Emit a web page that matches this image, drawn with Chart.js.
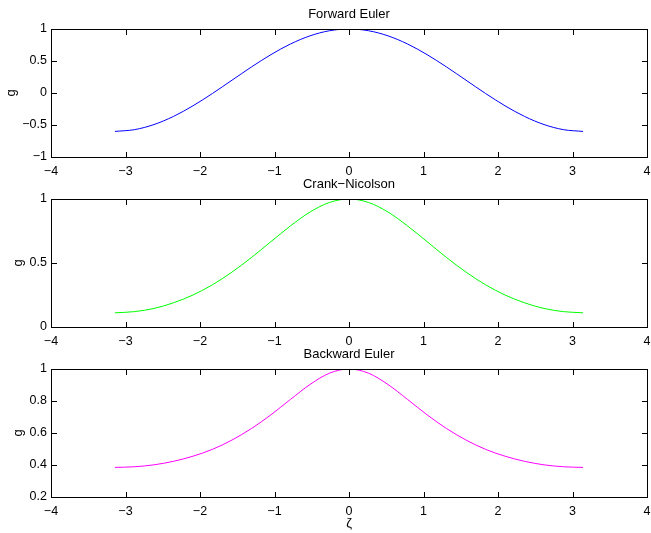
<!DOCTYPE html>
<html>
<head>
<meta charset="utf-8">
<script src="https://cdn.jsdelivr.net/npm/chart.js@4"></script>
<style>
  html, body { margin: 0; padding: 0; background: #fff; }
  #wrap { position: relative; width: 651px; height: 533px; }
  #wrap canvas { position: absolute; left: 0; top: 0; }
</style>
</head>
<body>
<div id="wrap">
  <canvas id="c1" width="651" height="533"></canvas>
  <canvas id="c2" width="651" height="533"></canvas>
  <canvas id="c3" width="651" height="533"></canvas>
</div>
<script>
// ---- data ----
const zeta = [-3.1416, -2.8798, -2.618, -2.3562, -2.0944, -1.8326, -1.5708, -1.309, -1.0472, -0.7854, -0.5236, -0.2618, 0,
              0.2618, 0.5236, 0.7854, 1.0472, 1.309, 1.5708, 1.8326, 2.0944, 2.3562, 2.618, 2.8798, 3.1416];
const forwardEuler = [-0.6, -0.573, -0.493, -0.366, -0.2, -0.007, 0.2, 0.407, 0.6, 0.766, 0.893, 0.973, 1,
                      0.973, 0.893, 0.766, 0.6, 0.407, 0.2, -0.007, -0.2, -0.366, -0.493, -0.573, -0.6];
const crankNicolson = [0.111, 0.120, 0.145, 0.189, 0.25, 0.330, 0.429, 0.543, 0.667, 0.790, 0.898, 0.973, 1,
                       0.973, 0.898, 0.790, 0.667, 0.543, 0.429, 0.330, 0.25, 0.189, 0.145, 0.120, 0.111];
const backwardEuler = [0.385, 0.389, 0.401, 0.423, 0.455, 0.498, 0.556, 0.628, 0.714, 0.810, 0.903, 0.974, 1,
                       0.974, 0.903, 0.810, 0.714, 0.628, 0.556, 0.498, 0.455, 0.423, 0.401, 0.389, 0.385];
const titles = ['Forward Euler', 'Crank\u2212Nicolson', 'Backward Euler'];
const xTicks = [-4, -3, -2, -1, 0, 1, 2, 3, 4];
const yTicks1 = [-1, -0.5, 0, 0.5, 1];
const yTicks2 = [0, 0.5, 1];
const yTicks3 = [0.2, 0.4, 0.6, 0.8, 1];
const yLabel = 'g';
const xLabel = '\u03B6';

const FONT = '"Liberation Sans", Arial, Helvetica, sans-serif';

function fmt(v) {
  const s = String(Number(v.toFixed(3)));
  return s.replace('-', '\u2212');
}

// MATLAB-style box with inward ticks on all four sides, placed through the chart's scales
const boxTicks = {
  id: 'boxTicks',
  afterDraw(chart) {
    const ctx = chart.ctx;
    const area = chart.chartArea;
    const sx = chart.scales.x, sy = chart.scales.y;
    const x0 = Math.round(area.left), x1 = Math.round(area.right);
    const y0 = Math.round(area.top), y1 = Math.round(area.bottom);
    const len = 5;
    ctx.save();
    ctx.fillStyle = '#000';
    ctx.fillRect(x0, y0, x1 - x0 + 1, 1);
    ctx.fillRect(x0, y1, x1 - x0 + 1, 1);
    ctx.fillRect(x0, y0, 1, y1 - y0 + 1);
    ctx.fillRect(x1, y0, 1, y1 - y0 + 1);
    sx.ticks.forEach(t => {
      const px = Math.round(sx.getPixelForValue(t.value));
      ctx.fillRect(px, y1 - len, 1, len);
      ctx.fillRect(px, y0 + 1, 1, len);
    });
    sy.ticks.forEach(t => {
      const py = Math.round(sy.getPixelForValue(t.value));
      ctx.fillRect(x0 + 1, py, len, 1);
      ctx.fillRect(x1 - len, py, len, 1);
    });
    ctx.restore();
  }
};

function makeChart(id, idx, values, color, yTicks, showX, yTitlePad) {
  const offsetTop = idx * 170;
  const xH = showX ? 36 : 20;
  const padBottom = 533 - (offsetTop + 157) - xH;
  new Chart(document.getElementById(id), {
    type: 'line',
    data: {
      datasets: [{
        data: zeta.map((z, i) => ({x: z, y: values[i]})),
        borderColor: color,
        borderWidth: 1,
        pointRadius: 0,
        fill: false,
        cubicInterpolationMode: 'monotone'
      }]
    },
    options: {
      responsive: false,
      animation: false,
      events: [],
      layout: { padding: { top: offsetTop, bottom: padBottom, left: 0, right: 4 } },
      plugins: {
        legend: { display: false },
        tooltip: { enabled: false },
        title: {
          display: true,
          text: titles[idx],
          fullSize: false,
          color: '#000',
          font: { family: FONT, size: 13, weight: 'normal' },
          padding: { top: 6.2, bottom: 7.2 }
        }
      },
      scales: {
        x: {
          type: 'linear',
          min: xTicks[0], max: xTicks[xTicks.length - 1],
          afterBuildTicks: s => { s.ticks = xTicks.map(v => ({value: v})); },
          afterFit: s => { s.height = xH; s.paddingLeft = 0; s.paddingRight = 0; },
          grid: { display: false, drawTicks: false },
          border: { display: false },
          ticks: { padding: 7, color: '#000', maxRotation: 0, autoSkip: false,
                   font: { family: FONT, size: 12.5 }, callback: v => fmt(v) },
          title: { display: showX, text: xLabel, color: '#000',
                   font: { family: FONT, size: 13 }, padding: { top: 0, bottom: 2 } }
        },
        y: {
          type: 'linear',
          min: yTicks[0], max: yTicks[yTicks.length - 1],
          afterBuildTicks: s => { s.ticks = yTicks.map(v => ({value: v})); },
          afterFit: s => { s.width = 51; s.paddingTop = 0; s.paddingBottom = 0; },
          grid: { display: false, drawTicks: false },
          border: { display: false },
          ticks: { padding: 4, color: '#000', autoSkip: false,
                   font: { family: FONT, size: 12.5 }, callback: v => fmt(v) },
          title: { display: true, text: yLabel, color: '#000',
                   font: { family: FONT, size: 13 }, padding: { top: yTitlePad, bottom: 0 } }
        }
      }
    },
    plugins: [boxTicks]
  });
}

makeChart('c1', 0, forwardEuler, '#0000ff', yTicks1, false, 3.2);
makeChart('c2', 1, crankNicolson, '#00ff00', yTicks2, false, 10.5);
makeChart('c3', 2, backwardEuler, '#ff00ff', yTicks3, true, 10.5);
</script>
</body>
</html>
